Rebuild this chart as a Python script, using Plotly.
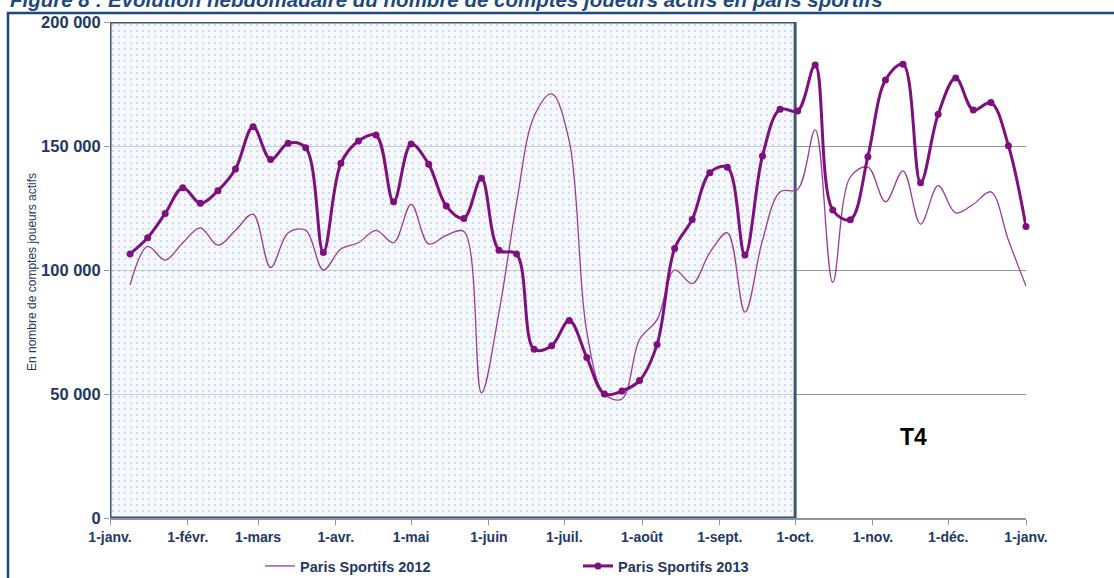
import pandas as pd
import plotly.graph_objects as go

# ---- data ----
week_dates = [
    "2013-01-09", "2013-01-16", "2013-01-23", "2013-01-30", "2013-02-06", "2013-02-13",
    "2013-02-20", "2013-02-27", "2013-03-06", "2013-03-13", "2013-03-20", "2013-03-27",
    "2013-04-03", "2013-04-10", "2013-04-17", "2013-04-24", "2013-05-01", "2013-05-08",
    "2013-05-15", "2013-05-22", "2013-05-29", "2013-06-05", "2013-06-12", "2013-06-19",
    "2013-06-26", "2013-07-03", "2013-07-10", "2013-07-17", "2013-07-24", "2013-07-31",
    "2013-08-07", "2013-08-14", "2013-08-21", "2013-08-28", "2013-09-04", "2013-09-11",
    "2013-09-18", "2013-09-25", "2013-10-02", "2013-10-09", "2013-10-16", "2013-10-23",
    "2013-10-30", "2013-11-06", "2013-11-13", "2013-11-20", "2013-11-27", "2013-12-04",
    "2013-12-11", "2013-12-18", "2013-12-25", "2014-01-01",
]

paris_2012 = [
    94000, 109500, 104000, 111000, 117000, 110000, 116000, 122500, 101000, 115000,
    116000, 100000, 108500, 111000, 116000, 111000, 126500, 110500, 114000, 115500,
    50500, 83000, 127000, 162000, 171000, 152000, 75000, 50000, 48000, 72000,
    80000, 100000, 94500, 107000, 115000, 83000, 112000, 131500, 132500, 156500,
    95000, 137500, 141500, 127500, 140000, 118500, 134000, 123000, 126500, 131500,
    112000, 93500,
]

paris_2013 = [
    106500, 113000, 122800, 133200, 126900, 132000, 140700, 157800, 144600, 151100,
    149300, 107100, 143000, 152000, 154400, 127500, 150800, 142600, 125800, 120800,
    137000, 108000, 106500, 68000, 69500, 79600, 64700, 50000, 51200, 55400,
    70000, 108700, 120400, 139200, 141400, 106000, 146000, 164800, 164100, 182700,
    124200, 120300, 145700, 176600, 183000, 135200, 162800, 177400, 164500, 167500,
    150100, 117500,
]

month_ticks = [
    "2013-01-01", "2013-02-01", "2013-03-01", "2013-04-01", "2013-05-01", "2013-06-01",
    "2013-07-01", "2013-08-01", "2013-09-01", "2013-10-01", "2013-11-01", "2013-12-01",
    "2014-01-01",
]
month_labels = [
    "1-janv.", "1-févr.", "1-mars", "1-avr.", "1-mai", "1-juin", "1-juil.",
    "1-août", "1-sept.", "1-oct.", "1-nov.", "1-déc.", "1-janv.",
]

y_ticks = [0, 50000, 100000, 150000, 200000]
y_labels = ["0", "50 000", "100 000", "150 000", "200 000"]

shade_start = "2013-01-01"
shade_end = "2013-10-01"
shade_top = 200000

title_text = "Figure 8 : Evolution hebdomadaire du nombre de comptes joueurs actifs en paris sportifs"

# ---- figure ----
NAVY = "#1f3864"
FONT = "Arial, Liberation Sans, sans-serif"

W, H = 1114, 578
ML, MR, MT, MB = 110, 88, 22, 60
PW, PH = W - ML - MR, H - MT - MB


def px_x(p):
    return (p - ML) / PW


def px_y(p):
    return (H - MB - p) / PH


s0 = pd.Timestamp(shade_start)
s1 = pd.Timestamp(shade_end)
mid = s0 + (s1 - s0) / 2
width_ms = (s1 - s0).total_seconds() * 1000

fig = go.Figure()

# dotted shaded area (T1-T3)
fig.add_trace(go.Bar(
    x=[mid.strftime("%Y-%m-%d %H:%M:%S")], y=[shade_top], base=0, width=[width_ms],
    marker=dict(
        color="rgba(236,244,250,0.6)",
        line=dict(color="#3b5772", width=3),
        pattern=dict(shape=".", size=6, solidity=0.08, fgcolor="#9aa6b4",
                     fillmode="overlay"),
    ),
    showlegend=False, hoverinfo="skip",
))

fig.add_trace(go.Scatter(
    x=week_dates, y=paris_2012, mode="lines", name="Paris Sportifs 2012",
    line=dict(color="#9b3c9b", width=1.3, shape="spline", smoothing=1.0),
    cliponaxis=False,
))

fig.add_trace(go.Scatter(
    x=week_dates, y=paris_2013, mode="lines+markers", name="Paris Sportifs 2013",
    line=dict(color="#7e0f7e", width=3, shape="spline", smoothing=1.0),
    marker=dict(color="#7e0f7e", size=7),
    cliponaxis=False,
))

fig.update_layout(
    width=W, height=H,
    margin=dict(l=ML, r=MR, t=MT, b=MB, autoexpand=False),
    paper_bgcolor="white", plot_bgcolor="white",
    font=dict(family=FONT, color=NAVY),
    separators=", ",
    title=dict(
        text=title_text,
        font=dict(family=FONT, size=20.5, color="#1f497d", weight="bold", style="italic"),
        x=10 / W, xanchor="left", xref="container",
        y=1.0, yanchor="middle", yref="container",
    ),
    xaxis=dict(
        type="date",
        range=[month_ticks[0], month_ticks[-1]],
        tickvals=month_ticks, ticktext=month_labels,
        tickfont=dict(size=14, color=NAVY, weight="bold"),
        ticks="outside", ticklen=5, tickcolor="#8c96a3",
        showgrid=False, showline=True, linecolor="#8c96a3", linewidth=1.5,
        zeroline=False, automargin=False,
    ),
    yaxis=dict(
        range=[0, 200000],
        tickvals=y_ticks, ticktext=y_labels,
        tickfont=dict(size=16.5, color=NAVY, weight="bold"),
        ticks="outside", ticklen=5, tickcolor="#8c96a3",
        showgrid=True, gridcolor="#8a97a8", gridwidth=1,
        showline=False, zeroline=False, automargin=False,
    ),
    legend=dict(
        orientation="h",
        xref="container", yref="container",
        x=260 / W, xanchor="left",
        y=1 - 566 / H, yanchor="middle",
        font=dict(size=14.5, color=NAVY, weight="bold"),
        entrywidth=273, entrywidthmode="pixels",
        bgcolor="rgba(0,0,0,0)",
    ),
    showlegend=True,
)

# y-axis title
fig.add_annotation(
    text="En nombre de comptes joueurs actifs",
    xref="paper", yref="paper", x=px_x(32), y=px_y(272),
    xanchor="center", yanchor="middle",
    textangle=-90, showarrow=False,
    font=dict(family=FONT, size=12, color=NAVY),
)

# T4 label
fig.add_annotation(
    text="T4", xref="x", yref="y", x="2013-11-17", y=32700,
    showarrow=False,
    font=dict(family=FONT, size=23, color="black", weight="bold"),
)

# outer frame of the figure
fig.add_shape(
    type="rect", xref="paper", yref="paper",
    x0=px_x(8), x1=px_x(1125), y0=px_y(600), y1=px_y(13),
    line=dict(color="#1f497d", width=2.5), fillcolor="rgba(0,0,0,0)",
    layer="above",
)

fig.write_html(
    "out.html",
    config={"displayModeBar": False},
    post_script="document.body.style.margin='0';document.body.style.overflow='hidden';",
)
